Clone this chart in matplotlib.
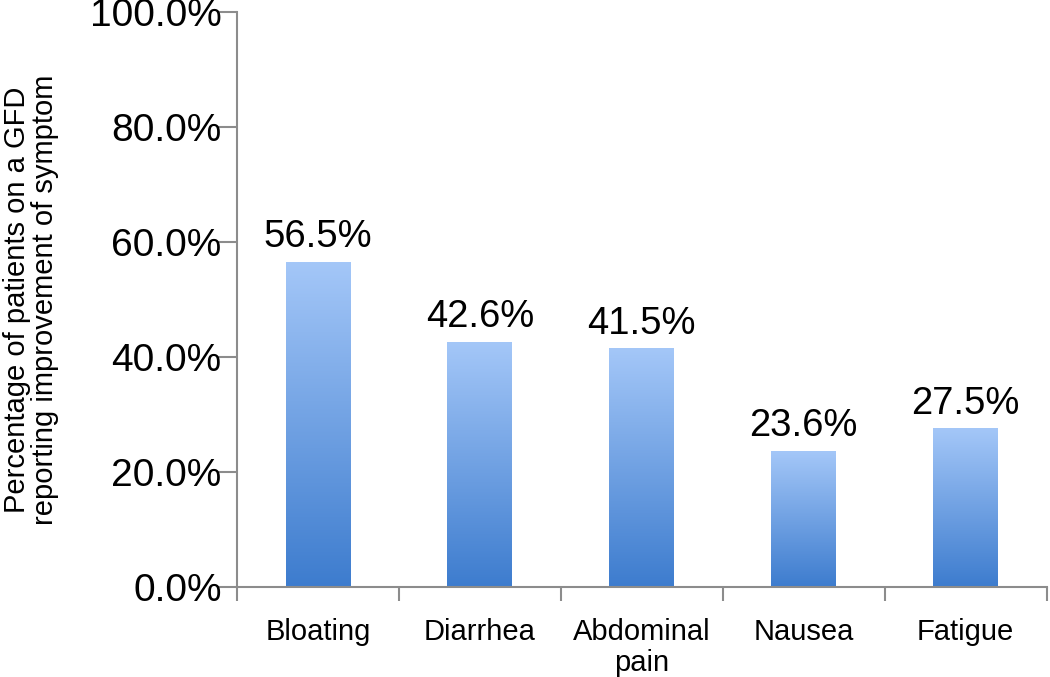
import numpy as np
import matplotlib
matplotlib.use('Agg')
import matplotlib.pyplot as plt
from matplotlib.colors import LinearSegmentedColormap
import matplotlib.ticker as ticker

categories = ['Bloating', 'Diarrhea', 'Abdominal\npain', 'Nausea', 'Fatigue']
values = [56.5, 42.6, 41.5, 23.6, 27.5]

plt.rcParams['font.family'] = ['Liberation Sans', 'DejaVu Sans']

fig = plt.figure(figsize=(10.5, 6.77), dpi=100)
ax = fig.add_axes([0.2257, 0.133, 0.771, 0.849])

# vertical gradient fill like the original spreadsheet bars
cmap = LinearSegmentedColormap.from_list('bar', ['#3D7CCE', '#A4C7F8'])
grad = np.linspace(0, 1, 256).reshape(-1, 1)
width = 0.4
x = np.arange(len(categories))
for xi, v in zip(x, values):
    ax.imshow(grad, cmap=cmap, aspect='auto', origin='lower',
              extent=[xi - width / 2, xi + width / 2, 0, v], zorder=2)
    ax.text(xi, v + 1.2, f'{v:.1f}%', ha='center', va='bottom', fontsize=27.5)

ax.set_xlim(-0.5, len(categories) - 0.5)
ax.set_ylim(0, 100)

gray = '#8c8c8c'
for s in ['top', 'right']:
    ax.spines[s].set_visible(False)
for s in ['left', 'bottom']:
    ax.spines[s].set_color(gray)
    ax.spines[s].set_linewidth(1.5)

ax.set_xticks(x)
ax.set_xticklabels(categories, fontsize=21, linespacing=1.15)
ax.set_xticks(np.arange(-0.5, len(categories)), minor=True)
ax.tick_params(axis='x', which='major', length=0, pad=22)
ax.tick_params(axis='x', which='minor', length=10, width=1.5, color=gray, direction='out')

ax.set_yticks(np.arange(0, 101, 20))
ax.yaxis.set_major_formatter(ticker.FuncFormatter(lambda v, p: f'{v:.1f}%'))
ax.tick_params(axis='y', labelsize=28, length=14, width=1.5, color=gray, pad=-3)

ax.set_ylabel('Percentage of patients on a GFD\nreporting improvement of symptom',
              fontsize=21, labelpad=22, linespacing=1.0)

plt.savefig('out.png', dpi=100)
